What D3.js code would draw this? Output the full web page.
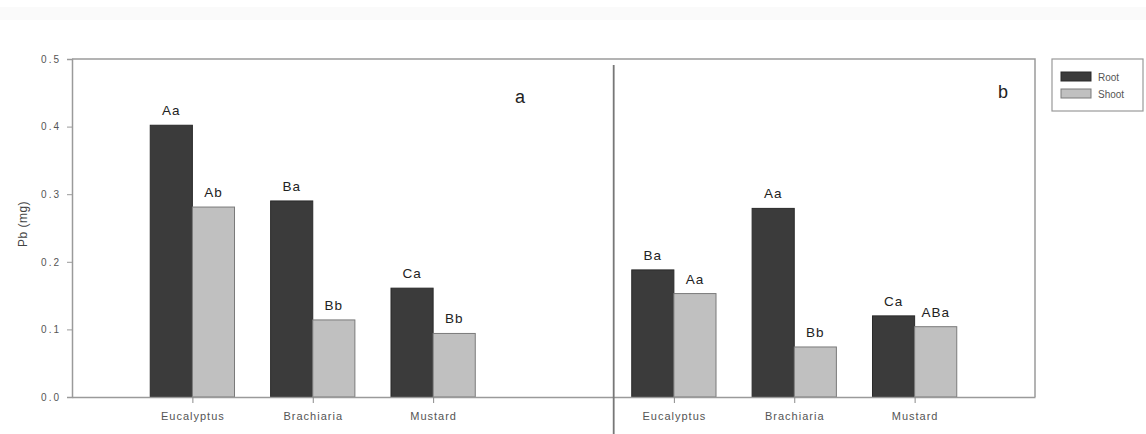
<!DOCTYPE html>
<html>
<head>
<meta charset="utf-8">
<script src="https://cdn.jsdelivr.net/npm/d3@7"></script>
<style>
  html, body { margin: 0; padding: 0; background: #fff; }
  svg { display: block; font-family: Arial, "Liberation Sans", sans-serif; }
</style>
</head>
<body>
<svg id="chart" width="1146" height="434"></svg>
<script>
// Plant species (repeated in both panels) and their slot on the shared x axis
const species = ["Eucalyptus", "Brachiaria", "Mustard"];
const panelASlots = [1, 2, 3];
const panelBSlots = [5, 6, 7];
const dividerSlot = 4.5;

// Series
const seriesNames = ["Root", "Shoot"];
const seriesColors = ["#3b3b3b", "#c0c0c0"];
const seriesStroke = ["#2a2a2a", "#7a7a7a"];

// Pb content (mg), panel a
const rootA = [0.402, 0.290, 0.161];
const shootA = [0.281, 0.114, 0.094];
// Pb content (mg), panel b
const rootB = [0.188, 0.279, 0.120];
const shootB = [0.153, 0.074, 0.104];

// Significance letters above each bar
const rootLabelsA = ["Aa", "Ba", "Ca"];
const shootLabelsA = ["Ab", "Bb", "Bb"];
const rootLabelsB = ["Ba", "Aa", "Ca"];
const shootLabelsB = ["Aa", "Bb", "ABa"];

const yTicks = [0.0, 0.1, 0.2, 0.3, 0.4, 0.5];

// Build bar rows from the arrays above
const rows = [];
function addPanel(slots, root, shoot, rl, sl) {
  species.forEach((s, i) => {
    rows.push({ slot: slots[i], series: 0, value: root[i], label: rl[i] });
    rows.push({ slot: slots[i], series: 1, value: shoot[i], label: sl[i] });
  });
}
addPanel(panelASlots, rootA, shootA, rootLabelsA, shootLabelsA);
addPanel(panelBSlots, rootB, shootB, rootLabelsB, shootLabelsB);

const svg = d3.select("#chart");
const L = 72, R = 1035, T = 59, B = 397;

// faint band across the top edge
svg.append("rect").attr("x", 0).attr("y", 7).attr("width", 1146).attr("height", 13)
  .attr("fill", "#fafafa");

const x = d3.scaleLinear().domain([0, 8]).range([L, R]);
const groupWidth = 0.7;
const sub = d3.scaleBand().domain([0, 1]).range([-groupWidth / 2, groupWidth / 2]);
const y = d3.scaleLinear().domain([0, 0.5]).range([B, T]);

// frame: top and right
svg.append("path")
  .attr("d", `M${L},${T}H${R}V${B}`)
  .attr("fill", "none").attr("stroke", "#9a9a9a").attr("stroke-width", 1.5);

// bars
svg.append("g").selectAll("rect").data(rows).join("rect")
  .attr("x", d => x(d.slot + sub(d.series)))
  .attr("width", d => x(sub.bandwidth()) - x(0))
  .attr("y", d => y(d.value))
  .attr("height", d => y(0) - y(d.value))
  .attr("fill", d => seriesColors[d.series])
  .attr("stroke", d => seriesStroke[d.series])
  .attr("stroke-width", 1);

// significance letters
svg.append("g").selectAll("text").data(rows).join("text")
  .attr("x", d => x(d.slot + sub(d.series) + sub.bandwidth() / 2))
  .attr("y", d => y(d.value) - 10)
  .attr("text-anchor", "middle")
  .attr("font-size", 13.5)
  .attr("letter-spacing", 1)
  .attr("fill", "#222")
  .text(d => d.label);

// y axis
const yAxis = d3.axisLeft(y).tickValues(yTicks).tickFormat(d3.format(".1f")).tickSize(5).tickPadding(6);
const gy = svg.append("g").attr("transform", `translate(${L},0)`).call(yAxis);
gy.select(".domain").attr("stroke", "#9a9a9a").attr("stroke-width", 1.5);
gy.selectAll(".tick line").attr("stroke", "#9a9a9a");
gy.selectAll(".tick text").attr("font-size", 10).attr("fill", "#555")
  .attr("letter-spacing", 2).attr("font-family", "Arial, 'Liberation Sans', sans-serif");

// x axis
const allSlots = panelASlots.concat(panelBSlots);
const allNames = species.concat(species);
const xAxis = d3.axisBottom(x).tickValues(allSlots)
  .tickFormat((d, i) => allNames[i]).tickSize(6).tickSizeOuter(0).tickPadding(9);
const gx = svg.append("g").attr("transform", `translate(0,${B})`).call(xAxis);
gx.select(".domain").attr("stroke", "#9a9a9a").attr("stroke-width", 1.5);
gx.selectAll(".tick line").attr("stroke", "#8a8a8a");
gx.selectAll(".tick text").attr("font-size", 11).attr("fill", "#555")
  .attr("letter-spacing", 1).attr("font-family", "Arial, 'Liberation Sans', sans-serif");

// panel divider
svg.append("line")
  .attr("x1", x(dividerSlot)).attr("x2", x(dividerSlot))
  .attr("y1", 65).attr("y2", 434)
  .attr("stroke", "#777").attr("stroke-width", 1.8);

// panel letters
svg.append("text").attr("x", 520).attr("y", 103).attr("text-anchor", "middle")
  .attr("font-size", 18).attr("fill", "#222").text("a");
svg.append("text").attr("x", 1003).attr("y", 98).attr("text-anchor", "middle")
  .attr("font-size", 18).attr("fill", "#222").text("b");

// y axis title
svg.append("text")
  .attr("transform", "translate(27,224) rotate(-90)")
  .attr("text-anchor", "middle")
  .attr("font-size", 12).attr("fill", "#444").attr("letter-spacing", 0.5)
  .text("Pb (mg)");

// legend
const lg = svg.append("g");
lg.append("rect").attr("x", 1052).attr("y", 59).attr("width", 91).attr("height", 52)
  .attr("fill", "#fff").attr("stroke", "#999").attr("stroke-width", 1.2);
seriesNames.forEach((name, i) => {
  const yy = 72 + i * 17;
  lg.append("rect").attr("x", 1061).attr("y", yy).attr("width", 30).attr("height", 9)
    .attr("fill", seriesColors[i]).attr("stroke", seriesStroke[i]);
  lg.append("text").attr("x", 1098).attr("y", yy + 8.5)
    .attr("font-size", 10).attr("fill", "#555").text(name);
});
</script>
</body>
</html>
